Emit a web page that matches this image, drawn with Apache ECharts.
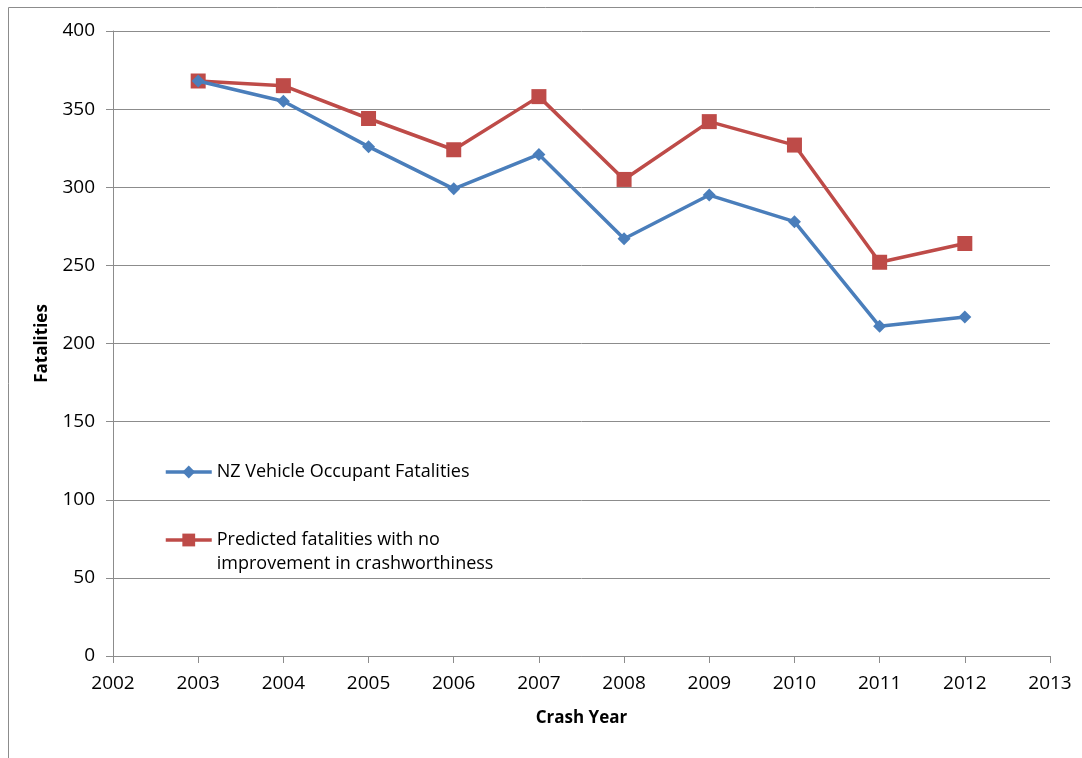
<!DOCTYPE html>
<html>
<head>
<meta charset="utf-8">
<script src="https://cdn.jsdelivr.net/npm/echarts@6/dist/echarts.min.js"></script>
<style>
  html, body { margin: 0; padding: 0; background: #fff; }
  #main { width: 1082px; height: 758px; }
</style>
</head>
<body>
<div id="main"></div>
<script>
var years = [2003, 2004, 2005, 2006, 2007, 2008, 2009, 2010, 2011, 2012];
var actual = [368, 355, 326, 299, 321, 267, 295, 278, 211, 217];
var predicted = [368, 365, 344, 324, 358, 305, 342, 327, 252, 264];
var names = ['NZ Vehicle Occupant Fatalities', 'Predicted fatalities with no improvement in crashworthiness'];

function pairs(xs, ys) {
    var out = [];
    for (var i = 0; i < xs.length; i++) {
        out.push([xs[i], ys[i]]);
    }
    return out;
}

var font = 'Open Sans';
var myChart = echarts.init(document.getElementById('main'));

var option = {
    animation: false,
    textStyle: { fontFamily: font },
    graphic: [{
        type: 'rect',
        shape: { x: 8.5, y: 7.5, width: 1100, height: 800 },
        style: { fill: 'none', stroke: '#8c8c8c', lineWidth: 1 }
    }],
    grid: { left: 113, right: 32, top: 31, bottom: 102 },
    legend: {
        orient: 'vertical',
        left: 159,
        top: 455,
        itemWidth: 46,
        itemHeight: 16,
        itemGap: 20,
        lineStyle: { width: 3.5 },
        textStyle: { fontFamily: font, fontSize: 18, color: '#000', lineHeight: 24 },
        formatter: function (n) {
            // leading blank line keeps the marker level with the first text line
            if (n === names[1]) return '\nPredicted fatalities with no\nimprovement in crashworthiness';
            return n;
        },
        data: names
    },
    xAxis: {
        type: 'value',
        min: 2002,
        max: 2013,
        interval: 1,
        name: 'Crash Year',
        nameLocation: 'middle',
        nameGap: 54,
        nameTextStyle: { fontFamily: font, fontSize: 17, fontWeight: 'bold', color: '#000' },
        axisLine: { lineStyle: { color: '#8c8c8c', width: 1 } },
        axisTick: { show: true, length: 7, lineStyle: { color: '#8c8c8c' } },
        axisLabel: {
            color: '#000', fontSize: 19, margin: 18, fontFamily: font,
            formatter: function (v) { return String(v); }
        },
        splitLine: { show: false }
    },
    yAxis: {
        type: 'value',
        min: 0,
        max: 400,
        interval: 50,
        name: 'Fatalities',
        nameLocation: 'middle',
        nameGap: 62,
        nameRotate: 90,
        nameTextStyle: { fontFamily: font, fontSize: 17, fontWeight: 'bold', color: '#000' },
        axisLine: { show: true, lineStyle: { color: '#8c8c8c', width: 1 } },
        axisTick: { show: true, length: 7, lineStyle: { color: '#8c8c8c' } },
        axisLabel: { color: '#000', fontSize: 19, margin: 18, fontFamily: font },
        splitLine: { show: true, lineStyle: { color: '#8c8c8c', width: 1 } }
    },
    series: [
        {
            name: names[0],
            type: 'line',
            data: pairs(years, actual),
            symbol: 'diamond',
            symbolSize: 13,
            lineStyle: { color: '#4a7ebb', width: 3.5 },
            itemStyle: { color: '#4a7ebb' },
            z: 3
        },
        {
            name: names[1],
            type: 'line',
            data: pairs(years, predicted),
            symbol: 'rect',
            symbolSize: 15,
            lineStyle: { color: '#be4b48', width: 3.5 },
            itemStyle: { color: '#be4b48' },
            z: 2
        }
    ]
};

myChart.setOption(option);
</script>
</body>
</html>
